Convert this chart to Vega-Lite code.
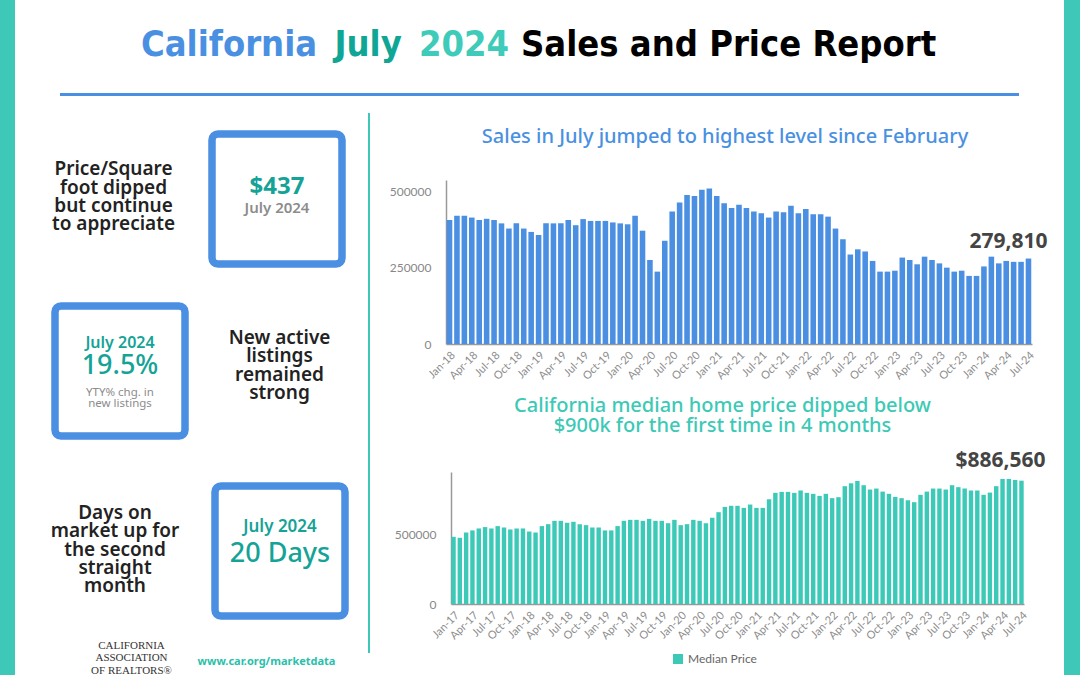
{
"$schema": "https://vega.github.io/schema/vega-lite/v6.json",
"padding": 0,
"background": "#ffffff",
"data": {"values": [{}]},
"config": {"view": {"stroke": null}, "concat": {"spacing": 0}},
"bounds": "flush",
"spacing": 0,
"resolve": {"scale": {"color": "independent"}, "legend": {"color": "independent"}},
"hconcat": [
{"width": 15, "height": 675, "mark": {"type": "text", "text": ""}, "view": {"fill": "#3dc8b8", "stroke": null}},
{"bounds": "flush", "spacing": 0, "vconcat": [
 {"width": 1049, "height": 93, "layer": [
  {"mark": {"type": "text", "text": "California", "align": "left", "baseline": "alphabetic", "dx": -398.5, "dy": 9, "font": "DejaVu Sans Condensed, sans-serif", "fontSize": 36, "fontWeight": "bold", "color": "#4a90e2"}},
  {"mark": {"type": "text", "text": "July", "align": "left", "baseline": "alphabetic", "dx": -205, "dy": 9, "font": "DejaVu Sans Condensed, sans-serif", "fontSize": 36, "fontWeight": "bold", "color": "#0fa696"}},
  {"mark": {"type": "text", "text": "2024", "align": "left", "baseline": "alphabetic", "dx": -120.5, "dy": 9, "font": "DejaVu Sans Condensed, sans-serif", "fontSize": 36, "fontWeight": "bold", "color": "#3fcbb9"}},
  {"mark": {"type": "text", "text": "Sales and Price Report", "align": "left", "baseline": "alphabetic", "dx": -18.5, "dy": 9, "font": "DejaVu Sans Condensed, sans-serif", "fontSize": 36, "fontWeight": "bold", "color": "#000000"}}
 ]},
 {"bounds": "flush", "spacing": 0, "hconcat": [
  {"width": 45, "height": 0, "mark": {"type": "text", "text": ""}},
  {"width": 959, "height": 3, "mark": {"type": "text", "text": ""}, "view": {"fill": "#4a90e2", "stroke": null}}
 ]}
]},
{"bounds": "flush", "spacing": 0, "vconcat": [
 {"width": 353, "height": 134, "mark": {"type": "text", "text": ""}},
 {"bounds": "flush", "spacing": 0, "hconcat": [
  {"width": 197, "height": 130, "mark": {"type": "text", "text": ["Price/Square", "foot dipped", "but continue", "to appreciate"], "lineHeight": 18.4, "fontSize": 19, "font": "Noto Sans", "fontWeight": 600, "color": "#222222", "baseline": "middle", "align": "center", "dy": -29.7}},
  {"width": 130, "height": 130, "view": {"stroke": "#4a8fe1", "strokeWidth": 7.5, "cornerRadius": 6, "fill": "#ffffff"}, "layer": [
   {"mark": {"type": "text", "text": "$437", "fontSize": 24, "font": "Noto Sans", "fontWeight": "bold", "color": "#14a396", "baseline": "middle", "dy": -12}},
   {"mark": {"type": "text", "text": "July 2024", "fontSize": 15, "font": "Noto Sans", "fontWeight": 600, "color": "#8c8c8c", "baseline": "middle", "dy": 9}}
  ]}
 ]},
 {"width": 0, "height": 172, "mark": {"type": "text", "text": ""}},
 {"bounds": "flush", "spacing": 0, "hconcat": [
  {"width": 40, "height": 0, "mark": {"type": "text", "text": ""}},
  {"width": 130, "height": 130, "view": {"stroke": "#4a8fe1", "strokeWidth": 7.5, "cornerRadius": 6, "fill": "#ffffff"}, "layer": [
   {"mark": {"type": "text", "text": "July 2024", "fontSize": 16, "font": "Noto Sans", "fontWeight": 600, "color": "#14a396", "baseline": "middle", "dy": -28}},
   {"mark": {"type": "text", "text": "19.5%", "fontSize": 27, "font": "Noto Sans", "fontWeight": 500, "color": "#14a396", "baseline": "middle", "dy": -5}},
   {"mark": {"type": "text", "text": ["YTY% chg. in", "new listings"], "lineHeight": 10.8, "fontSize": 11.5, "font": "Noto Sans", "color": "#8c8c8c", "baseline": "middle", "dy": 21.7}}
  ]},
  {"width": 183, "height": 130, "mark": {"type": "text", "text": ["New active", "listings", "remained", "strong"], "lineHeight": 18.4, "fontSize": 19, "font": "Noto Sans", "fontWeight": 600, "color": "#222222", "baseline": "middle", "align": "center", "dy": -33, "dx": 3}}
 ]},
 {"width": 0, "height": 180, "mark": {"type": "text", "text": ""}},
 {"bounds": "flush", "spacing": 0, "hconcat": [
  {"width": 200, "height": 130, "mark": {"type": "text", "text": ["Days on", "market up for", "the second", "straight", "month"], "lineHeight": 18.3, "fontSize": 19, "font": "Noto Sans", "fontWeight": 600, "color": "#222222", "baseline": "middle", "align": "center", "dy": -38}},
  {"width": 130, "height": 130, "view": {"stroke": "#4a8fe1", "strokeWidth": 7.5, "cornerRadius": 6, "fill": "#ffffff"}, "layer": [
   {"mark": {"type": "text", "text": "July 2024", "fontSize": 17, "font": "Noto Sans", "fontWeight": 600, "color": "#14a396", "baseline": "middle", "dy": -24}},
   {"mark": {"type": "text", "text": "20 Days", "fontSize": 27, "font": "Noto Sans", "fontWeight": 500, "color": "#14a396", "baseline": "middle", "dy": 3}}
  ]}
 ]},
 {"width": 0, "height": 130, "mark": {"type": "text", "text": ""}},
 {"width": 353, "height": 59, "layer": [
  {"mark": {"type": "text", "text": ["CALIFORNIA", "ASSOCIATION", "OF REALTORS®"], "lineHeight": 12.5, "fontSize": 11, "font": "Liberation Serif, DejaVu Serif, serif", "color": "#333333", "baseline": "middle", "dx": -60, "dy": 0}},
  {"mark": {"type": "text", "text": "www.car.org/marketdata", "fontSize": 11, "font": "Noto Sans", "fontWeight": "bold", "color": "#2bbfab", "baseline": "middle", "dx": 75, "dy": 16.5}}
 ]}
]},
{"width": 353, "height": 0, "mark": {"type": "text", "text": ""}},
{"bounds": "flush", "spacing": 0, "vconcat": [
 {"width": 2, "height": 113, "mark": {"type": "text", "text": ""}},
 {"width": 2, "height": 540, "mark": {"type": "text", "text": ""}, "view": {"fill": "#3dc8b8", "stroke": null}}
]},
{"width": 2, "height": 0, "mark": {"type": "text", "text": ""}},
{"bounds": "flush", "spacing": 0, "resolve": {"scale": {"color": "independent"}, "legend": {"color": "independent"}}, "vconcat": [
 {"width": 0, "height": 180, "mark": {"type": "text", "text": ""}},
 {"bounds": "flush", "spacing": 0, "hconcat": [
  {"width": 76, "height": 0, "mark": {"type": "text", "text": ""}},
  {"width": 586, "height": 164,
   "data": {"values": [
    {"m": "Jan-18", "v": 406000}, {"m": "Feb-18", "v": 420000}, {"m": "Mar-18", "v": 420000}, {"m": "Apr-18", "v": 414000}, {"m": "May-18", "v": 406000}, {"m": "Jun-18", "v": 410000}, {"m": "Jul-18", "v": 406000}, {"m": "Aug-18", "v": 395000}, {"m": "Sep-18", "v": 378000}, {"m": "Oct-18", "v": 395000}, {"m": "Nov-18", "v": 378000}, {"m": "Dec-18", "v": 367000},
    {"m": "Jan-19", "v": 357000}, {"m": "Feb-19", "v": 395000}, {"m": "Mar-19", "v": 395000}, {"m": "Apr-19", "v": 395000}, {"m": "May-19", "v": 406000}, {"m": "Jun-19", "v": 389000}, {"m": "Jul-19", "v": 409000}, {"m": "Aug-19", "v": 403000}, {"m": "Sep-19", "v": 403000}, {"m": "Oct-19", "v": 403000}, {"m": "Nov-19", "v": 398000}, {"m": "Dec-19", "v": 395000},
    {"m": "Jan-20", "v": 392000}, {"m": "Feb-20", "v": 420000}, {"m": "Mar-20", "v": 371000}, {"m": "Apr-20", "v": 275000}, {"m": "May-20", "v": 237000}, {"m": "Jun-20", "v": 338000}, {"m": "Jul-20", "v": 434000}, {"m": "Aug-20", "v": 463000}, {"m": "Sep-20", "v": 488000}, {"m": "Oct-20", "v": 485000}, {"m": "Nov-20", "v": 505000}, {"m": "Dec-20", "v": 509000},
    {"m": "Jan-21", "v": 485000}, {"m": "Feb-21", "v": 461000}, {"m": "Mar-21", "v": 445000}, {"m": "Apr-21", "v": 456000}, {"m": "May-21", "v": 445000}, {"m": "Jun-21", "v": 434000}, {"m": "Jul-21", "v": 428000}, {"m": "Aug-21", "v": 414000}, {"m": "Sep-21", "v": 434000}, {"m": "Oct-21", "v": 431000}, {"m": "Nov-21", "v": 453000}, {"m": "Dec-21", "v": 428000},
    {"m": "Jan-22", "v": 442000}, {"m": "Feb-22", "v": 425000}, {"m": "Mar-22", "v": 425000}, {"m": "Apr-22", "v": 417000}, {"m": "May-22", "v": 378000}, {"m": "Jun-22", "v": 343000}, {"m": "Jul-22", "v": 293000}, {"m": "Aug-22", "v": 310000}, {"m": "Sep-22", "v": 303000}, {"m": "Oct-22", "v": 272000}, {"m": "Nov-22", "v": 237000}, {"m": "Dec-22", "v": 237000},
    {"m": "Jan-23", "v": 240000}, {"m": "Feb-23", "v": 283000}, {"m": "Mar-23", "v": 275000}, {"m": "Apr-23", "v": 261000}, {"m": "May-23", "v": 286000}, {"m": "Jun-23", "v": 275000}, {"m": "Jul-23", "v": 264000}, {"m": "Aug-23", "v": 250000}, {"m": "Sep-23", "v": 237000}, {"m": "Oct-23", "v": 240000}, {"m": "Nov-23", "v": 223000}, {"m": "Dec-23", "v": 223000},
    {"m": "Jan-24", "v": 254000}, {"m": "Feb-24", "v": 286000}, {"m": "Mar-24", "v": 264000}, {"m": "Apr-24", "v": 272000}, {"m": "May-24", "v": 269000}, {"m": "Jun-24", "v": 269000}, {"m": "Jul-24", "v": 279810}
   ]},
   "title": {"text": "Sales in July jumped to highest level since February", "color": "#4a90e2", "font": "Noto Sans", "fontSize": 20, "fontWeight": 500, "frame": "group", "anchor": "middle", "offset": 33, "dx": -14},
   "encoding": {
    "x": {"field": "m", "type": "ordinal", "sort": null, "scale": {"paddingInner": 0.25, "paddingOuter": 0.1},
     "axis": {"title": null, "labelAngle": -45, "values": ["Jan-18","Apr-18","Jul-18","Oct-18","Jan-19","Apr-19","Jul-19","Oct-19","Jan-20","Apr-20","Jul-20","Oct-20","Jan-21","Apr-21","Jul-21","Oct-21","Jan-22","Apr-22","Jul-22","Oct-22","Jan-23","Apr-23","Jul-23","Oct-23","Jan-24","Apr-24","Jul-24"], "ticks": false, "domainColor": "#999999", "domainWidth": 1.5, "labelColor": "#8c8c8c", "labelFont": "Lato", "labelFontSize": 11, "labelPadding": 5}},
    "y": {"field": "v", "type": "quantitative", "scale": {"domain": [0, 537000], "nice": false},
     "axis": {"title": null, "values": [0, 250000, 500000], "format": "d", "grid": false, "ticks": false, "domainColor": "#999999", "domainWidth": 1.5, "labelColor": "#888888", "labelFont": "Lato", "labelFontSize": 12, "labelPadding": 15}}
   },
   "layer": [
    {"mark": {"type": "bar", "color": "#4a8fe1"}},
    {"transform": [{"filter": "datum.m === 'Jul-24'"}], "mark": {"type": "text", "align": "right", "baseline": "middle", "dx": 19, "dy": -17, "font": "Noto Sans", "fontSize": 21, "fontWeight": "bold", "color": "#444444"}, "encoding": {"text": {"field": "v", "format": ","}}}
   ]
  }
 ]},
 {"width": 0, "height": 292, "mark": {"type": "text", "text": ""}},
 {"bounds": "flush", "spacing": 0, "resolve": {"scale": {"color": "independent"}, "legend": {"color": "independent"}}, "hconcat": [
  {"width": 81, "height": 0, "mark": {"type": "text", "text": ""}},
  {"width": 573, "height": 132,
   "data": {"values": [
    {"m": "Jan-17", "v": 483000}, {"m": "Feb-17", "v": 476000}, {"m": "Mar-17", "v": 514000}, {"m": "Apr-17", "v": 529000}, {"m": "May-17", "v": 543000}, {"m": "Jun-17", "v": 553000}, {"m": "Jul-17", "v": 543000}, {"m": "Aug-17", "v": 560000}, {"m": "Sep-17", "v": 550000}, {"m": "Oct-17", "v": 536000}, {"m": "Nov-17", "v": 543000}, {"m": "Dec-17", "v": 543000},
    {"m": "Jan-18", "v": 521000}, {"m": "Feb-18", "v": 514000}, {"m": "Mar-18", "v": 560000}, {"m": "Apr-18", "v": 574000}, {"m": "May-18", "v": 598000}, {"m": "Jun-18", "v": 598000}, {"m": "Jul-18", "v": 584000}, {"m": "Aug-18", "v": 591000}, {"m": "Sep-18", "v": 574000}, {"m": "Oct-18", "v": 567000}, {"m": "Nov-18", "v": 550000}, {"m": "Dec-18", "v": 550000},
    {"m": "Jan-19", "v": 529000}, {"m": "Feb-19", "v": 529000}, {"m": "Mar-19", "v": 560000}, {"m": "Apr-19", "v": 598000}, {"m": "May-19", "v": 605000}, {"m": "Jun-19", "v": 605000}, {"m": "Jul-19", "v": 598000}, {"m": "Aug-19", "v": 612000}, {"m": "Sep-19", "v": 598000}, {"m": "Oct-19", "v": 598000}, {"m": "Nov-19", "v": 581000}, {"m": "Dec-19", "v": 605000},
    {"m": "Jan-20", "v": 567000}, {"m": "Feb-20", "v": 574000}, {"m": "Mar-20", "v": 605000}, {"m": "Apr-20", "v": 598000}, {"m": "May-20", "v": 581000}, {"m": "Jun-20", "v": 620000}, {"m": "Jul-20", "v": 660000}, {"m": "Aug-20", "v": 698000}, {"m": "Sep-20", "v": 706000}, {"m": "Oct-20", "v": 706000}, {"m": "Nov-20", "v": 691000}, {"m": "Dec-20", "v": 715000},
    {"m": "Jan-21", "v": 691000}, {"m": "Feb-21", "v": 691000}, {"m": "Mar-21", "v": 753000}, {"m": "Apr-21", "v": 799000}, {"m": "May-21", "v": 806000}, {"m": "Jun-21", "v": 806000}, {"m": "Jul-21", "v": 799000}, {"m": "Aug-21", "v": 816000}, {"m": "Sep-21", "v": 799000}, {"m": "Oct-21", "v": 792000}, {"m": "Nov-21", "v": 777000}, {"m": "Dec-21", "v": 792000},
    {"m": "Jan-22", "v": 761000}, {"m": "Feb-22", "v": 768000}, {"m": "Mar-22", "v": 847000}, {"m": "Apr-22", "v": 868000}, {"m": "May-22", "v": 885000}, {"m": "Jun-22", "v": 854000}, {"m": "Jul-22", "v": 823000}, {"m": "Aug-22", "v": 830000}, {"m": "Sep-22", "v": 808000}, {"m": "Oct-22", "v": 792000}, {"m": "Nov-22", "v": 770000}, {"m": "Dec-22", "v": 761000},
    {"m": "Jan-23", "v": 746000}, {"m": "Feb-23", "v": 732000}, {"m": "Mar-23", "v": 785000}, {"m": "Apr-23", "v": 808000}, {"m": "May-23", "v": 830000}, {"m": "Jun-23", "v": 830000}, {"m": "Jul-23", "v": 823000}, {"m": "Aug-23", "v": 854000}, {"m": "Sep-23", "v": 840000}, {"m": "Oct-23", "v": 830000}, {"m": "Nov-23", "v": 816000}, {"m": "Dec-23", "v": 816000},
    {"m": "Jan-24", "v": 785000}, {"m": "Feb-24", "v": 801000}, {"m": "Mar-24", "v": 847000}, {"m": "Apr-24", "v": 899000}, {"m": "May-24", "v": 899000}, {"m": "Jun-24", "v": 892000}, {"m": "Jul-24", "v": 886560}
   ]},
   "title": {"text": ["California median home price dipped below", "$900k for the first time in 4 months"], "color": "#3cc9b6", "font": "Noto Sans", "fontSize": 20, "fontWeight": 500, "lineHeight": 20, "frame": "group", "anchor": "middle", "offset": 14, "dx": -15},
   "encoding": {
    "x": {"field": "m", "type": "ordinal", "sort": null, "scale": {"paddingInner": 0.3, "paddingOuter": 0.05},
     "axis": {"title": null, "labelAngle": -45, "values": ["Jan-17","Apr-17","Jul-17","Oct-17","Jan-18","Apr-18","Jul-18","Oct-18","Jan-19","Apr-19","Jul-19","Oct-19","Jan-20","Apr-20","Jul-20","Oct-20","Jan-21","Apr-21","Jul-21","Oct-21","Jan-22","Apr-22","Jul-22","Oct-22","Jan-23","Apr-23","Jul-23","Oct-23","Jan-24","Apr-24","Jul-24"], "ticks": false, "domainColor": "#999999", "domainWidth": 1.5, "labelColor": "#8c8c8c", "labelFont": "Lato", "labelFontSize": 11, "labelPadding": 5}},
    "y": {"field": "v", "type": "quantitative", "scale": {"domain": [0, 949000], "nice": false},
     "axis": {"title": null, "values": [0, 500000], "format": "d", "grid": false, "ticks": false, "domainColor": "#999999", "domainWidth": 1.5, "labelColor": "#888888", "labelFont": "Lato", "labelFontSize": 12, "labelPadding": 15}}
   },
   "layer": [
    {"mark": {"type": "bar"}, "encoding": {"color": {"datum": "Median Price", "scale": {"range": ["#3dc9b8"]}, "legend": {"orient": "none", "legendX": 221, "legendY": 181, "padding": 0, "direction": "horizontal", "title": null, "symbolType": "square", "symbolSize": 100, "symbolStrokeWidth": 0, "labelFont": "Lato", "labelFontSize": 12, "labelColor": "#666666"}}}},
    {"transform": [{"filter": "datum.m === 'Jul-24'"}], "mark": {"type": "text", "align": "right", "baseline": "middle", "dx": 24, "dy": -20, "font": "Noto Sans", "fontSize": 21, "fontWeight": "bold", "color": "#444444"}, "encoding": {"text": {"field": "v", "format": "$,"}}}
   ]
  }
 ]}
]},
{"width": 694, "height": 0, "mark": {"type": "text", "text": ""}},
{"width": 16, "height": 675, "mark": {"type": "text", "text": ""}, "view": {"fill": "#3dc8b8", "stroke": null}}
]
}
